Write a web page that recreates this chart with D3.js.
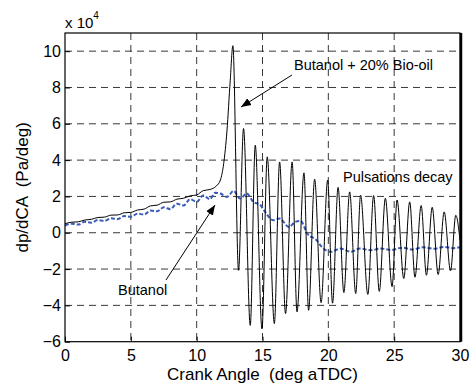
<!DOCTYPE html>
<html>
<head>
<meta charset="utf-8">
<script src="https://cdn.jsdelivr.net/npm/d3@7"></script>
<style>
  body { margin: 0; background: #fff; }
  svg { font-family: "Liberation Sans", Arial, sans-serif; }
  .pre { white-space: pre; }
</style>
</head>
<body>
<div id="chart"></div>
<script>
// tick values
const xTicks = [0, 5, 10, 15, 20, 25, 30];
const yTicks = [-6, -4, -2, 0, 2, 4, 6, 8, 10];

// Butanol + 20% Bio-oil (black) : crank angle / dp/dCA (x 10^4)
const bioX = [0, 0.5, 1, 1.5, 2, 2.5, 3, 3.5, 4, 4.5, 5, 5.5, 6, 6.5, 7, 7.5, 8, 8.5, 9, 9.5, 10, 10.5, 11, 11.5, 11.8, 12.05, 12.3, 12.55, 12.75,
  13.18, 13.56, 14.07, 14.45, 14.96, 15.36, 15.9, 16.3, 16.75, 17.25, 17.62, 18.15, 18.5, 18.96, 19.45, 19.95, 20.32, 20.74, 21.18, 21.62, 22.08, 22.45,
  23.0, 23.44, 23.87, 24.33, 24.84, 25.22, 25.73, 26.18, 26.58, 27.05, 27.45, 27.89, 28.34, 28.8, 29.28, 29.68, 30];
const bioY = [0.5, 0.58, 0.6, 0.7, 0.74, 0.84, 0.86, 0.97, 0.98, 1.1, 1.12, 1.25, 1.3, 1.48, 1.52, 1.68, 1.7, 1.85, 1.9, 2.03, 2.08, 2.32, 2.38, 2.58, 2.9, 3.8, 5.6, 8.4, 10.3,
  -2.07, 5.74, -5.1, 4.82, -5.3, 4.18, -5.0, 3.9, -4.45, 3.9, -4.36, 3.3, -4.27, 2.95, -3.85, 2.9, -3.88, 2.5, -3.3, 2.25, -3.35, 2.07,
  -3.4, 2.05, -3.23, 1.9, -2.97, 1.8, -2.52, 1.7, -2.45, 1.5, -2.34, 1.4, -2.3, 1.15, -2.1, 0.96, -0.4];

// Butanol (blue dashed)
const butX = [0, 0.5, 1, 1.5, 2, 2.5, 3, 3.5, 4, 4.5, 5, 5.5, 6, 6.5, 7, 7.5, 8, 8.5, 9, 9.5, 10, 10.5, 11, 11.4, 11.8, 12.3, 12.8, 13.3, 13.8, 14.3,
  14.8, 15.2, 15.8, 16.3, 17.0, 17.5, 17.9, 18.4, 19.1, 19.5, 20.2, 20.9, 21.7, 22.4, 23.2, 24.0, 24.8, 25.6, 26.4, 27.2, 28.0, 28.8, 29.5, 30];
const butY = [0.4, 0.5, 0.45, 0.6, 0.55, 0.7, 0.65, 0.8, 0.75, 0.92, 0.88, 1.05, 1.0, 1.22, 1.18, 1.4, 1.3, 1.6, 1.5, 1.85, 1.7, 2.05, 1.85, 2.2, 2.16, 1.97, 2.3, 1.88, 2.16, 1.7,
  1.55, 1.15, 0.69, 0.78, 0.32, 0.6, 0.65, -0.04, -0.41, -0.78, -1.05, -0.87, -1.05, -0.87, -0.96, -0.87, -0.95, -0.82, -0.92, -0.8, -0.88, -0.78, -0.85, -0.8];

const W = 475, H = 385;
const mLeft = 65, mRight = 460, mTop = 33, mBottom = 341.7;

const svg = d3.select("#chart").append("svg")
    .attr("width", W)
    .attr("height", H);

const x = d3.scaleLinear().domain([0, 30]).range([mLeft, mRight]);
const y = d3.scaleLinear().domain([-6, 11]).range([mBottom, mTop]);

// griglia tratteggiata
const grid = svg.append("g").attr("stroke", "#222").attr("stroke-width", 0.9).attr("stroke-dasharray", "7,5");
grid.selectAll(".gx").data(xTicks.slice(1, -1)).enter().append("line")
    .attr("x1", d => x(d)).attr("x2", d => x(d))
    .attr("y1", mTop).attr("y2", mBottom);
grid.selectAll(".gy").data(yTicks.slice(1)).enter().append("line")
    .attr("x1", mLeft).attr("x2", mRight)
    .attr("y1", d => y(d)).attr("y2", d => y(d));

// curve
const bioData = bioX.map((d, i) => [d, bioY[i]]);
const butData = butX.map((d, i) => [d, butY[i]]);

const line = d3.line()
    .x(d => x(d[0]))
    .y(d => y(d[1]))
    .curve(d3.curveMonotoneX);

svg.append("path")
    .datum(butData)
    .attr("fill", "none")
    .attr("stroke", "#3a5cb8")
    .attr("stroke-width", 2)
    .attr("stroke-dasharray", "4,2")
    .attr("d", line);

svg.append("path")
    .datum(bioData)
    .attr("fill", "none")
    .attr("stroke", "#000")
    .attr("stroke-width", 1)
    .attr("d", line);

// assi
const xAxis = svg.append("g")
    .attr("transform", `translate(0,${mBottom})`)
    .call(d3.axisBottom(x).tickValues(xTicks).tickSizeInner(-5).tickSizeOuter(0).tickPadding(8));
const yAxis = svg.append("g")
    .attr("transform", `translate(${mLeft},0)`)
    .call(d3.axisLeft(y).tickValues(yTicks).tickSizeInner(-5).tickSizeOuter(0).tickPadding(4));
[xAxis, yAxis].forEach(a => {
  a.select(".domain").remove();
  a.selectAll("line").attr("stroke", "#000");
  a.selectAll("text").attr("font-size", 16).attr("fill", "#000")
      .attr("font-family", "\"Liberation Sans\", Arial, sans-serif");
});

// cornice
svg.append("rect")
    .attr("x", mLeft).attr("y", mTop)
    .attr("width", mRight - mLeft).attr("height", mBottom - mTop)
    .attr("fill", "none").attr("stroke", "#000").attr("stroke-width", 1.2);
svg.append("line")
    .attr("x1", mRight + 1).attr("x2", mRight + 1)
    .attr("y1", mTop).attr("y2", mBottom)
    .attr("stroke", "#000").attr("stroke-width", 2.5);

// x 10^4
const mult = svg.append("text").attr("x", 65).attr("y", 28).attr("font-size", 15);
mult.append("tspan").text("x 10");
mult.append("tspan").attr("dy", -9).attr("font-size", 10).text("4");

// etichette assi
svg.append("text")
    .attr("class", "pre")
    .attr("x", (mLeft + mRight) / 2)
    .attr("y", 380)
    .attr("text-anchor", "middle")
    .attr("font-size", 17)
    .text("Crank Angle  (deg aTDC)");
svg.append("text")
    .attr("class", "pre")
    .attr("transform", `translate(28,${(mTop + mBottom) / 2}) rotate(-90)`)
    .attr("text-anchor", "middle")
    .attr("font-size", 17)
    .text("dp/dCA  (Pa/deg)");

// annotazioni
svg.append("defs").append("marker")
    .attr("id", "arrow")
    .attr("viewBox", "0 0 10 10")
    .attr("refX", 10).attr("refY", 5)
    .attr("markerWidth", 10).attr("markerHeight", 10)
    .attr("markerUnits", "userSpaceOnUse")
    .attr("orient", "auto")
    .append("path").attr("d", "M0,1 L10,5 L0,9 Z").attr("fill", "#000");

svg.append("text").attr("x", 294).attr("y", 70).attr("font-size", 14.5).text("Butanol + 20% Bio-oil");
svg.append("line").attr("x1", 292).attr("y1", 75).attr("x2", 241).attr("y2", 107)
    .attr("stroke", "#000").attr("stroke-width", 1).attr("marker-end", "url(#arrow)");

svg.append("text").attr("x", 343).attr("y", 182).attr("font-size", 14.5).text("Pulsations decay");

svg.append("text").attr("x", 118).attr("y", 295).attr("font-size", 14.5).text("Butanol");
svg.append("line").attr("x1", 166).attr("y1", 280).attr("x2", 215).attr("y2", 205)
    .attr("stroke", "#000").attr("stroke-width", 1).attr("marker-end", "url(#arrow)");
</script>
</body>
</html>
